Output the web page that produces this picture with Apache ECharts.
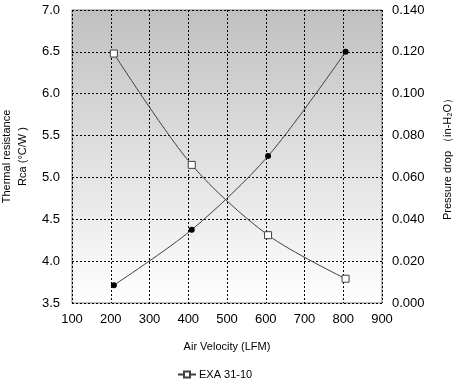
<!DOCTYPE html>
<html>
<head>
<meta charset="utf-8">
<script src="https://cdn.jsdelivr.net/npm/echarts@6/dist/echarts.min.js"></script>
<style>html,body{margin:0;padding:0;background:#fff}#c{width:454px;height:382px}</style>
</head>
<body>
<div id="c"></div>
<script>
var velocity = [208, 409, 606, 806];
var thermalResistance = [6.48, 5.15, 4.31, 3.79];
var pressureDrop = [0.0085, 0.035, 0.0702, 0.120];
var seriesName = 'EXA 31-10';
var xTicks = [100, 900, 100];

var chart = echarts.init(document.getElementById('c'), null, {renderer: 'canvas'});
var font = 'Liberation Sans, Arial, sans-serif';
function pairs(xs, ys) { return xs.map(function (x, i) { return [x, ys[i]]; }); }
chart.setOption({
  animation: false,
  textStyle: {fontFamily: font},
  grid: {
    left: 72, right: 72, top: 10, bottom: 79,
    outerBoundsMode: 'none', containLabel: false,
    show: true,
    borderColor: '#808080', borderWidth: 1,
    backgroundColor: new echarts.graphic.LinearGradient(0, 0, 0, 1, [
      {offset: 0, color: '#c0c0c0'},
      {offset: 1, color: '#ffffff'}
    ])
  },
  legend: {
    top: 364, left: 172,
    data: [{name: seriesName, icon: 'path://M0,5 L6,5 M6,2 L12,2 L12,8 L6,8 Z M12,5 L18,5'}],
    itemWidth: 18, itemHeight: 8, itemGap: 4,
    textStyle: {fontSize: 11, color: '#000', fontFamily: font, padding: [0, 0, 0, -2]}
  },
  xAxis: {
    type: 'value', min: xTicks[0], max: xTicks[1], interval: xTicks[2],
    name: 'Air Velocity (LFM)', nameLocation: 'middle', nameGap: 38,
    nameTextStyle: {fontSize: 11, color: '#000'},
    axisLine: {show: false},
    axisTick: {show: false},
    axisLabel: {fontSize: 13, color: '#000', margin: 10},
    splitLine: {show: true, lineStyle: {type: [2, 2], color: '#000', width: 1}}
  },
  yAxis: [{
    type: 'value', min: 3.5, max: 7.0, interval: 0.5,
    name: 'Thermal resistance\nRca (\u00B0C/W )', nameLocation: 'middle', nameGap: 38,
    nameRotate: 90,
    nameTextStyle: {fontSize: 11, color: '#000', lineHeight: 16},
    axisLine: {show: false}, axisTick: {show: false},
    axisLabel: {fontSize: 13, color: '#000', margin: 12, formatter: function (v) { return v.toFixed(1); }},
    splitLine: {show: true, lineStyle: {type: [2, 2], color: '#000', width: 1}}
  }, {
    type: 'value', min: 0, max: 0.14, interval: 0.02,
    name: 'Pressure drop \uFF08in-H\u2082O\uFF09', nameLocation: 'middle', nameGap: 60,
    nameRotate: 90,
    nameTextStyle: {fontSize: 11, color: '#000'},
    axisLine: {show: false}, axisTick: {show: false},
    axisLabel: {fontSize: 13, color: '#000', margin: 10, formatter: function (v) { return v.toFixed(3); }},
    splitLine: {show: false}
  }],
  series: [{
    name: seriesName, type: 'line', yAxisIndex: 0,
    data: pairs(velocity, thermalResistance),
    smooth: 0.3,
    symbol: 'rect', symbolSize: 7,
    lineStyle: {color: '#404040', width: 1},
    itemStyle: {color: '#fff', borderColor: '#404040', borderWidth: 1}
  }, {
    name: 'pressure', type: 'line', yAxisIndex: 1,
    data: pairs(velocity, pressureDrop),
    smooth: 0.3,
    symbol: 'circle', symbolSize: 6,
    lineStyle: {color: '#404040', width: 1},
    itemStyle: {color: '#000', borderColor: '#000', borderWidth: 0}
  }]
});
</script>
</body>
</html>
